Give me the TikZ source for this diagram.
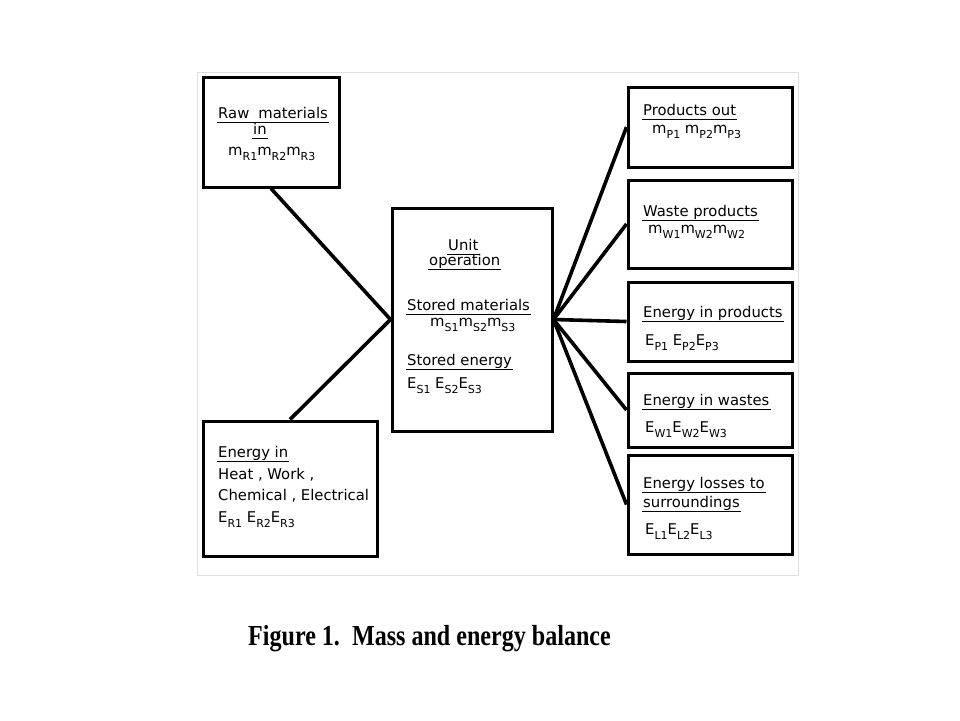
\documentclass[tikz,border=0pt]{standalone}
\usepackage{fontspec}
\setmainfont{DejaVu Sans}
\newfontfamily\capfont[FakeStretch=0.83]{Liberation Serif}
\usetikzlibrary{positioning}
\newcommand{\sbs}[1]{\raisebox{-0.7ex}{\fontsize{11}{11}\selectfont #1}}

\begin{document}
\begin{tikzpicture}[x=1pt, y=-1pt,
  box/.style={draw, line width=3pt, rectangle, inner sep=0pt},
  link/.style={line width=3.6pt},
  txt/.style={anchor=base west, inner sep=0pt, font=\fontsize{14.8}{16}\selectfont},
  head/.style={txt, inner sep=1pt, text depth=3.5pt,
    append after command={(\tikzlastnode.south west) edge[line width=1.5pt] (\tikzlastnode.south east)}}]
\useasboundingbox (0,0) rectangle (960,720);
% рамка рисунка
\draw [gray!25, line width=1pt] (197,72) rectangle (798,575);
% блоки
\node [box, minimum width=136, minimum height=110] (raw) at (271,132) {};
\node [box, minimum width=160, minimum height=223] (unit) at (472,319.5) {};
\node [box, minimum width=174, minimum height=135] (enin) at (290,488.5) {};
\node [box, minimum width=164, minimum height=80] (prod) at (710,127) {};
\node [box, minimum width=164, minimum height=88] (waste) at (710,224) {};
\node [box, minimum width=164, minimum height=79] (eprod) at (710,321.5) {};
\node [box, minimum width=164, minimum height=74] (ewaste) at (710,410) {};
\node [box, minimum width=164, minimum height=99] (eloss) at (710,504.5) {};
% связи
\draw [link] (raw.south) -- (unit.west);
\draw [link] (enin.north) -- (unit.west);
\draw [link] (unit.east) -- (prod.west);
\draw [link] (unit.east) -- (waste.west);
\draw [link] (unit.east) -- (eprod.west);
\draw [link] (unit.east) -- (ewaste.west);
\draw [link] (unit.east) -- (eloss.west);
% подписи слева
\node [head] (rawh) at (217,118) {Raw\hspace{9pt}materials};
\node [head] (rawi) at (252,134) {in};
\node [txt] (rawm) at (228,155) {m\sbs{R1}m\sbs{R2}m\sbs{R3}};
\node [head] (eninh) at (217,457) {Energy in};
\node [txt] (enin1) at (218,479) {Heat , Work ,};
\node [txt] (enin2) at (218,500) {Chemical , Electrical};
\node [txt] (enin3) at (218,522) {E\sbs{R1} E\sbs{R2}E\sbs{R3}};
% подписи в центре
\node [head] (unith) at (447,250) {Unit};
\node [head] (unito) at (428,265) {operation};
\node [head] (unitm) at (406,310) {Stored materials};
\node [txt] (unitms) at (430,326) {m\sbs{S1}m\sbs{S2}m\sbs{S3}};
\node [head] (unite) at (406,365) {Stored energy};
\node [txt] (unites) at (407,388) {E\sbs{S1} E\sbs{S2}E\sbs{S3}};
% подписи справа
\node [head] (prodh) at (642,115) {Products out};
\node [txt] (prodm) at (652,133) {m\sbs{P1} m\sbs{P2}m\sbs{P3}};
\node [head] (wasteh) at (642,216) {Waste products};
\node [txt] (wastem) at (648,233) {m\sbs{W1}m\sbs{W2}m\sbs{W2}};
\node [head] (eprodh) at (642,317) {Energy in products};
\node [txt] (eprode) at (645,345) {E\sbs{P1} E\sbs{P2}E\sbs{P3}};
\node [head] (ewasteh) at (642,405) {Energy in wastes};
\node [txt] (ewastee) at (645,432) {E\sbs{W1}E\sbs{W2}E\sbs{W3}};
\node [head] (elossh) at (642,488) {Energy losses to};
\node [head] (elosss) at (642,507) {surroundings};
\node [txt] (elosse) at (645,534) {E\sbs{L1}E\sbs{L2}E\sbs{L3}};
% подпись рисунка
\node [anchor=base west, inner sep=0pt, font=\capfont\bfseries\fontsize{29}{30}\selectfont] (cap) at (248,645) {Figure 1.\ \ Mass and energy balance};
\end{tikzpicture}
\end{document}
